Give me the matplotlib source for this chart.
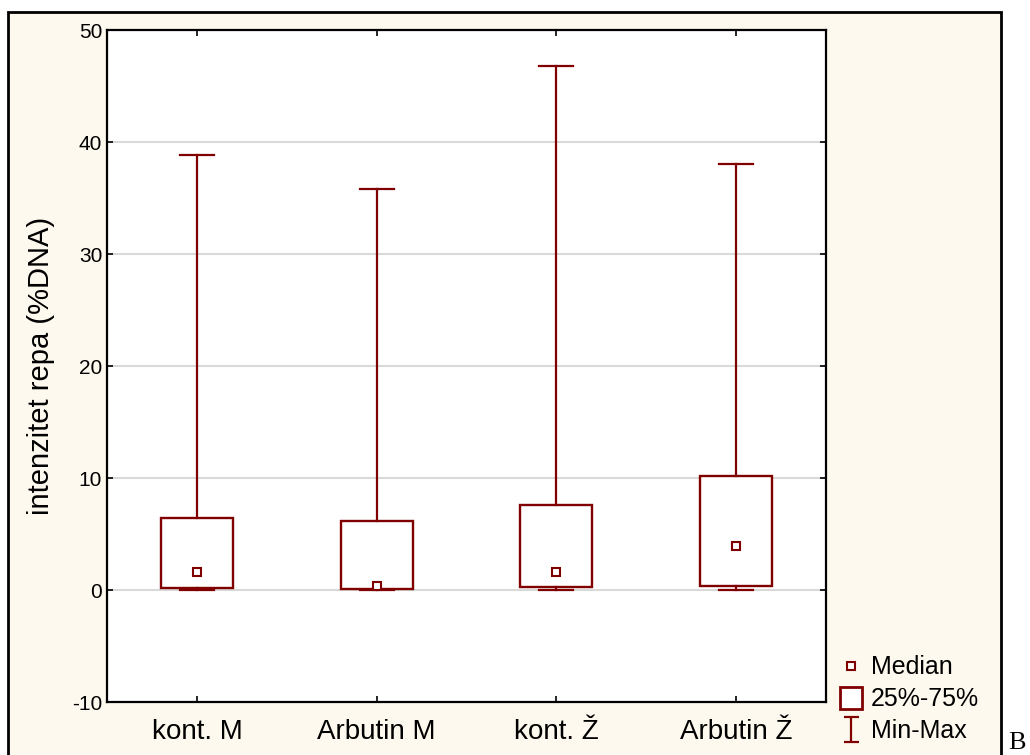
import matplotlib.pyplot as plt
import matplotlib.patches as mpatches
from matplotlib.lines import Line2D
from matplotlib.path import Path

# values
groups = ['kont. M', 'Arbutin M', 'kont. Ž', 'Arbutin Ž']
mins = [0.0, 0.0, 0.0, 0.0]
q1 = [0.2, 0.05, 0.3, 0.4]
medians = [1.6, 0.4, 1.6, 3.9]
q3 = [6.4, 6.2, 7.6, 10.2]
maxs = [38.8, 35.8, 46.8, 38.0]
yticks = [-10, 0, 10, 20, 30, 40, 50]

dark_red = '#800000'
cream = '#FEF9EE'
plt.rcParams['font.family'] = ['Liberation Sans', 'DejaVu Sans']
plt.rcParams['axes.unicode_minus'] = False

fig = plt.figure(figsize=(10.3, 7.55), dpi=100)
fig.patch.set_facecolor('white')

# cream panel with black frame behind everything
frame = mpatches.Rectangle((8 / 1030, -0.05), (1001 - 8) / 1030, 1.05 - 12 / 755,
                           transform=fig.transFigure, facecolor=cream,
                           edgecolor='black', linewidth=2, zorder=-5)
fig.patches.append(frame)

ax = fig.add_axes([107 / 1030, 53 / 755, (826 - 107) / 1030, (702 - 30) / 755])
ax.set_zorder(1)
ax.set_facecolor('white')

stats = []
for i, g in enumerate(groups):
    stats.append({'label': g, 'whislo': mins[i], 'q1': q1[i], 'med': medians[i],
                  'q3': q3[i], 'whishi': maxs[i], 'fliers': []})

pos = list(range(1, len(groups) + 1))
ax.bxp(stats, positions=pos, widths=0.4, capwidths=0.19, patch_artist=True,
       showfliers=False,
       boxprops=dict(facecolor='white', edgecolor=dark_red, linewidth=1.7),
       whiskerprops=dict(color=dark_red, linewidth=1.6),
       capprops=dict(color=dark_red, linewidth=1.6),
       medianprops=dict(linewidth=0), zorder=3)
ax.plot(pos, medians, 's', ms=6, mfc='white', mec=dark_red, mew=1.5,
        linestyle='none', zorder=4)

ax.set_xlim(0.5, 4.5)
ax.set_ylim(-10, 50)
ax.set_yticks(yticks)
ax.set_xticks(pos)
ax.set_xticklabels(groups, fontsize=20)
ax.tick_params(axis='y', labelsize=15, direction='in', length=4, right=True, width=1.2)
ax.tick_params(axis='x', direction='in', length=4, top=True, width=1.2, pad=12)
ax.set_ylabel('intenzitet repa (%DNA)', fontsize=21, labelpad=12)
ax.grid(axis='y', color='#D9D9D9', linewidth=1.5, zorder=0)
ax.set_axisbelow(True)
for s in ax.spines.values():
    s.set_linewidth(1.6)

# legend symbols
ibeam = Path([(-0.6, -1), (0.6, -1), (0, -1), (0, 1), (-0.6, 1), (0.6, 1)],
             [Path.MOVETO, Path.LINETO, Path.MOVETO, Path.LINETO, Path.MOVETO, Path.LINETO])
handles = [
    Line2D([], [], marker='s', ms=6, mfc='white', mec=dark_red, mew=1.5, linestyle='none'),
    Line2D([], [], marker='s', ms=16, mfc='white', mec=dark_red, mew=2, linestyle='none'),
    Line2D([], [], marker=ibeam, ms=18, mec=dark_red, mew=1.6, linestyle='none'),
]
fig.legend(handles, ['Median', '25%-75%', 'Min-Max'], loc='upper left',
           bbox_to_anchor=(821 / 1030, 1 - 643 / 755), frameon=False,
           fontsize=18, handletextpad=0.1, labelspacing=0.31, borderpad=0,
           handlelength=1.4)

fig.text(1008 / 1030, 1 / 755, 'B', fontsize=19, family='Liberation Serif',
         ha='left', va='bottom')

fig.savefig('out.png', dpi=100)
